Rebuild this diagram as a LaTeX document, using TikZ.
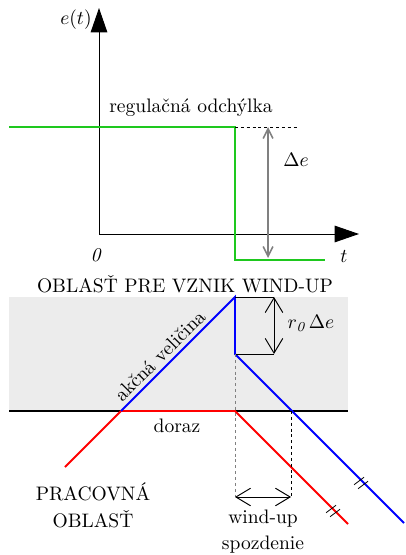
\documentclass[tikz,border=0pt]{standalone}
\usepackage{fontspec}
\usetikzlibrary{arrows.meta}
\definecolor{zone}{RGB}{236,236,236}
\definecolor{grn}{RGB}{30,200,30}
\begin{document}
\begin{tikzpicture}[x=0.512pt,y=-0.512pt,
  axis/.style={line width=0.5pt,-{Triangle[length=12.5pt,width=8.5pt]}},
  sig/.style={line width=1pt},
  thin/.style={line width=0.5pt},
  dimsmall/.style={line width=0.8pt,draw=gray,{Straight Barb[length=5pt,width=5pt]}-{Straight Barb[length=5pt,width=5pt]}},
  dimbig/.style={line width=0.5pt,{Straight Barb[length=7.5pt,width=9pt]}-{Straight Barb[length=7.5pt,width=9pt]}},
  guide/.style={line width=0.4pt,dash pattern=on 1.5pt off 1.5pt},
  tickmark/.style={line width=0.4pt},
  lbl/.style={inner sep=0pt}
]
\useasboundingbox (0,0) rectangle (405,555);
% ---- upper plot ----
\coordinate (O) at (99,234);
\coordinate (ytip) at (99,8);
\coordinate (xtip) at (359,234);
\draw[axis] (O) -- (ytip);
\draw[axis] (O) -- (xtip);
\node[lbl,anchor=east] (et) at (92,20) {$e(t)$};
\node[lbl] (zero) at (96,255) {\textit{0}};
\node[lbl] (tl) at (344,256) {$t$};
\coordinate (g0) at (9,127);
\coordinate (g1) at (235,127);
\coordinate (g2) at (235,260);
\coordinate (g3) at (325,260);
\draw[sig,grn] (g0) -- (g1) -- (g2) -- (g3);
\coordinate (dend) at (297,127);
\draw[guide] (g1) -- (dend);
\coordinate (da) at (268,127);
\coordinate (db) at (268,258);
\draw[dimsmall] (da) -- (db);
\node[lbl] (de) at (296,160) {$\Delta e$};
\node[lbl] (reg) at (191,108) {regulačná odchýlka};
% ---- lower plot ----
\fill[zone] (9,297) rectangle (348,411);
\coordinate (b0) at (9,411);
\coordinate (b1) at (348,411);
\draw[line width=1pt] (b0) -- (b1);
\node[lbl] (title) at (185,284) {OBLASŤ PRE VZNIK WIND-UP};
% red
\coordinate (r0) at (65,467);
\coordinate (r1) at (121,411);
\coordinate (r2) at (235,411);
\coordinate (r3) at (348,524);
\draw[sig,red] (r0) -- (r1) -- (r2) -- (r3);
% blue
\coordinate (u0) at (121,411);
\coordinate (u1) at (235,297);
\coordinate (u2) at (235,354);
\coordinate (u3) at (404,523);
\coordinate (cross) at (291,411);
\draw[sig,blue] (u0) -- (u1) -- (u2) -- (u3);
% r0 delta e box
\coordinate (k1) at (274,297);
\coordinate (k2) at (274,354);
\draw[thin] (u1) -- (k1);
\draw[thin] (u2) -- (k2);
\draw[dimbig] (k1) -- (k2);
\node[lbl] (rde) at (311,323) {$r_{\mathit{0}}\,\Delta e$};
\coordinate (akcpt) at (168,364);
\node[inner sep=2.2pt,rotate=45,anchor=south] (akc) at (akcpt) {akčná veličina};
\node[lbl] (dor) at (177,426) {doraz};
% guides
\coordinate (w1) at (235,497);
\coordinate (w2) at (291,497);
\draw[guide,gray] (u2) -- (w1);
\draw[guide] (cross) -- (w2);
\draw[dimbig] (w1) -- (w2);
\node[lbl] (wu) at (263,519) {wind-up};
\node[lbl] (spo) at (263,545) {spozdenie};
\node[lbl] (pr1) at (93,492) {PRACOVNÁ};
\node[lbl] (pr2) at (93,519) {OBLASŤ};
% tick marks
\coordinate (tr) at (333,511);
\coordinate (tb) at (361,483);
\foreach \p in {tr,tb}{
  \draw[tickmark] ([shift={(-2,-2)}]\p) ++(-5,3.75) -- ++(10,-7.5);
  \draw[tickmark] ([shift={(2,2)}]\p) ++(-5,3.75) -- ++(10,-7.5);
}
\end{tikzpicture}
\end{document}
